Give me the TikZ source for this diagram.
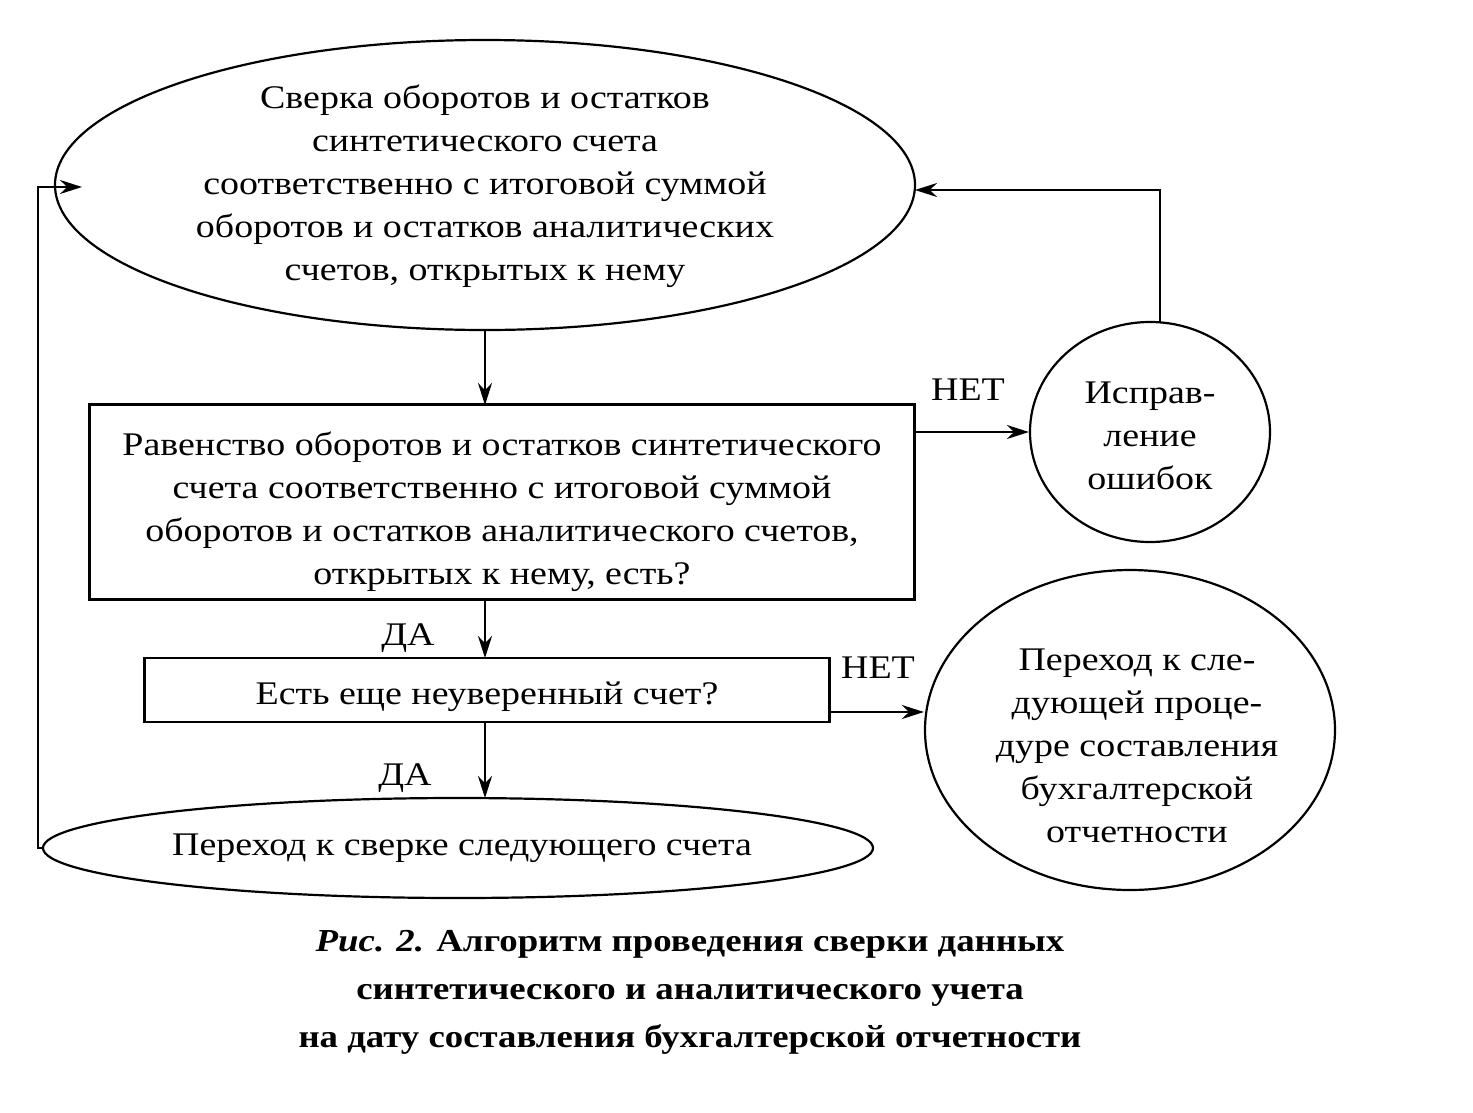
\documentclass[tikz,border=0pt]{standalone}
\usepackage{fontspec}
\setmainfont[FakeStretch=1.15]{Liberation Serif}
\usetikzlibrary{arrows.meta,shapes.geometric}
\begin{document}
\begin{tikzpicture}[x=1pt,y=-1pt,
  shp/.style={draw,line width=2.2pt},
  conn/.style={line width=2.2pt,-{Stealth[length=22pt,width=14pt]}},
  txt/.style={font=\fontsize{33}{43}\selectfont,align=center},
  lbl/.style={font=\fontsize{33}{36}\selectfont},
  captext/.style={font=\fontsize{32}{48}\selectfont\bfseries,align=center}]
\useasboundingbox (0,0) rectangle (1473,1112);
\node[shp,ellipse,minimum width=860,minimum height=290] (e1) at (485,185) {};
\node[txt] (t1) at (485,186) {Сверка оборотов и остатков\\синтетического счета\\соответственно с итоговой суммой\\оборотов и остатков аналитических\\счетов, открытых к нему};
\node[shp,minimum width=825,minimum height=195] (r1) at (502,502) {};
\node[txt] at (502,512) {Равенство оборотов и остатков синтетического\\счета соответственно с итоговой суммой\\оборотов и остатков аналитического счетов,\\открытых к нему, есть?};
\node[shp,ellipse,minimum width=240,minimum height=220] (c1) at (1150,432) {};
\node[txt] at (1150,436) {Исправ-\\ление\\ошибок};
\node[shp,minimum width=685,minimum height=64] (r2) at (487,690) {};
\node[txt] at (487,697) {Есть еще неуверенный счет?};
\node[shp,ellipse,minimum width=410,minimum height=320] (c2) at (1130,730) {};
\node[txt] at (1137,746) {Переход к сле-\\дующей проце-\\дуре составления\\бухгалтерской\\отчетности};
\node[shp,ellipse,minimum width=830,minimum height=100] (e2) at (458,848) {};
\node[txt] at (462,848) {Переход к сверке следующего счета};
\coordinate (e1b) at (485,330);
\draw[conn] (e1b) -- (485,405);
\draw[conn] (915,432) -- (c1.west);
\node[lbl] at (968,390) {НЕТ};
\coordinate (c1t) at (1160,322);
\draw[conn] (c1t) -- (1160,190) -- (915,190);
\draw[conn] (485,600) -- (485,658);
\node[lbl] at (408,638) {ДА};
\draw[conn] (830,712) -- (c2.west |- 0,712);
\node[lbl] at (878,668) {НЕТ};
\draw[conn] (485,722) -- (485,798);
\node[lbl] at (405,778) {ДА};
\coordinate (e2l) at (43,848);
\draw[conn] (e2l) -- (38,848) -- (38,187) -- (82,187);
\node[captext] at (690,992) {\textit{Рис. 2.} Алгоритм проведения сверки данных\\синтетического и аналитического учета\\на дату составления бухгалтерской отчетности};
\end{tikzpicture}
\end{document}
